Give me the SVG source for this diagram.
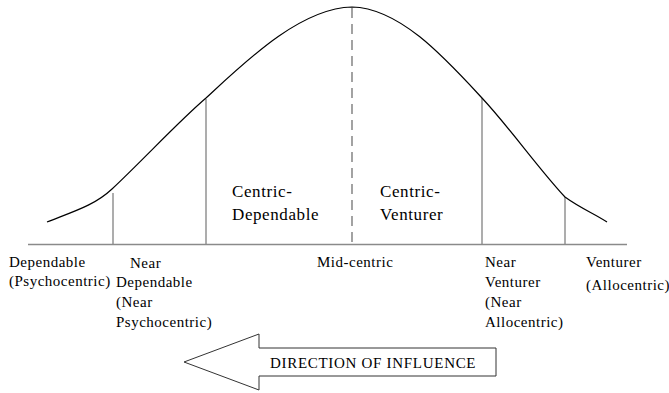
<svg xmlns="http://www.w3.org/2000/svg" width="669" height="393" viewBox="0 0 669 393">
  <style>
    .lbl { font-family: "Liberation Serif", "Times New Roman", serif; font-size: 15px; letter-spacing: 0.5px; fill: #000; }
    .big { font-family: "Liberation Serif", "Times New Roman", serif; font-size: 17px; letter-spacing: 0.6px; fill: #000; }
    .axis { stroke: #8a8a8a; stroke-width: 1.6; fill: none; }
    .div { stroke: #8a8a8a; stroke-width: 1.4; fill: none; }
    .mid { stroke: #666; stroke-width: 1.2; stroke-dasharray: 10 6; fill: none; }
    .curve { stroke: #000; stroke-width: 1.2; fill: none; }
  </style>
  <rect width="669" height="393" fill="#fff"/>

  <g id="connectors">
    <!-- horizontal axis -->
    <line class="axis" x1="28" y1="244.5" x2="627" y2="244.5"/>
    <!-- segment dividers -->
    <line class="div" x1="113" y1="193" x2="113" y2="244"/>
    <line class="div" x1="206" y1="99" x2="206" y2="244"/>
    <line class="mid" x1="352" y1="8" x2="352" y2="244"/>
    <line class="div" x1="482" y1="98" x2="482" y2="244"/>
    <line class="div" x1="565" y1="197" x2="565" y2="244"/>
    <!-- bell curve -->
    <path class="curve" d="M47,222 C75,211 95,205 112,189 C145,158 178,122 206,98 C245,62 300,8 352,7 C400,8 445,58 482,98 C510,128 538,168 565,197 C580,208 595,214 607,222"/>
  </g>

  <g id="segment-centric-dependable">
    <text class="big" x="232" y="197">Centric-</text>
    <text class="big" x="232" y="220">Dependable</text>
  </g>
  <g id="segment-centric-venturer">
    <text class="big" x="380" y="197">Centric-</text>
    <text class="big" x="380" y="220">Venturer</text>
  </g>

  <g id="label-dependable">
    <text class="lbl" x="9" y="267">Dependable</text>
    <text class="lbl" x="9" y="286">(Psychocentric)</text>
  </g>
  <g id="label-near-dependable">
    <text class="lbl" x="130" y="268">Near</text>
    <text class="lbl" x="116" y="287">Dependable</text>
    <text class="lbl" x="116" y="307">(Near</text>
    <text class="lbl" x="116" y="327">Psychocentric)</text>
  </g>
  <g id="label-mid-centric">
    <text class="lbl" x="317" y="267">Mid-centric</text>
  </g>
  <g id="label-near-venturer">
    <text class="lbl" x="485" y="267">Near</text>
    <text class="lbl" x="485" y="287">Venturer</text>
    <text class="lbl" x="485" y="307">(Near</text>
    <text class="lbl" x="485" y="327">Allocentric)</text>
  </g>
  <g id="label-venturer">
    <text class="lbl" x="586" y="267">Venturer</text>
    <text class="lbl" x="586" y="290">(Allocentric)</text>
  </g>

  <g id="direction-arrow">
    <polygon points="184,362 259,334 259,348 496,348 496,376 259,376 259,390" fill="#fff" stroke="#333" stroke-width="1"/>
    <text class="lbl" x="270" y="368" style="letter-spacing:0.7px">DIRECTION OF INFLUENCE</text>
  </g>
</svg>
